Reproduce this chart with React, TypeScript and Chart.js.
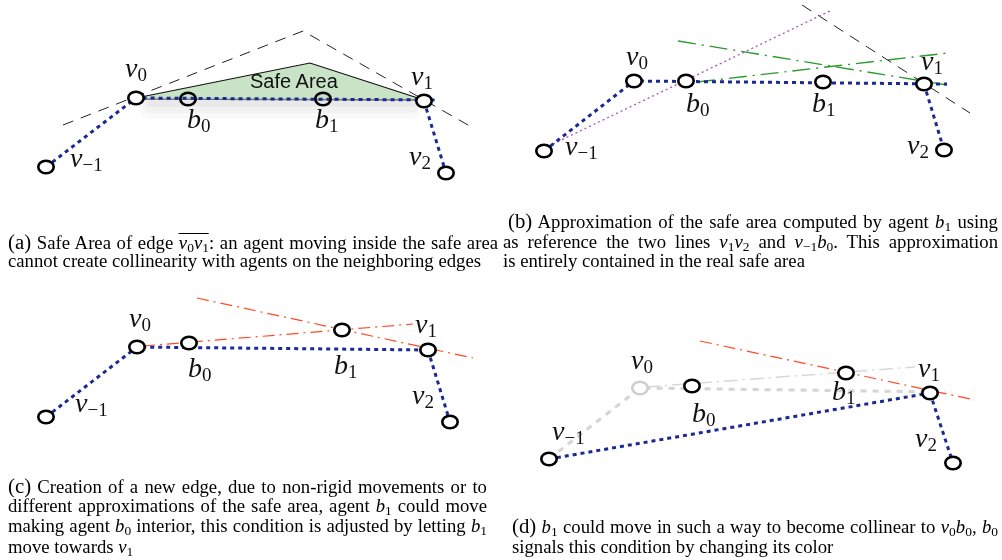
import React, { useEffect, useRef } from 'react';
import { Chart, registerables } from 'chart.js';

Chart.register(...registerables);

const W = 1002;
const H = 560;

// ---------- data: node / agent positions per panel (figure coordinates) ----------
// panel (a)
const nodesA = [{ x: 46, y: 167 }, { x: 136, y: 98 }, { x: 424, y: 101 }, { x: 446, y: 173 }];
const agentsA = [{ x: 188, y: 99 }, { x: 323, y: 99 }];
const blueA1 = [{ x: 46, y: 167 }, { x: 136, y: 98 }, { x: 438, y: 100 }];
const blueA2 = [{ x: 424, y: 101 }, { x: 446, y: 173 }];
const safeArea = [{ x: 136, y: 98 }, { x: 310, y: 63 }, { x: 424, y: 100 }];
const safeBase = [{ x: 136, y: 99 }, { x: 424, y: 100 }];
const shadowA1 = [{ x: 150, y: 103 }, { x: 412, y: 103 }];
const shadowA2 = [{ x: 150, y: 106 }, { x: 412, y: 106 }];
const shadowA3 = [{ x: 150, y: 108 }, { x: 412, y: 108 }];
const dashedA = [{ x: 63, y: 125 }, { x: 303, y: 31 }, { x: 475, y: 129 }];

// panel (b)
const nodesB = [{ x: 544, y: 151 }, { x: 634, y: 81 }, { x: 924, y: 84 }, { x: 944, y: 150 }];
const agentsB = [{ x: 686, y: 81 }, { x: 823, y: 82 }];
const blueB1 = [{ x: 544, y: 151 }, { x: 634, y: 81 }, { x: 947, y: 84 }];
const blueB2 = [{ x: 924, y: 84 }, { x: 944, y: 150 }];
const magentaB = [{ x: 553, y: 144 }, { x: 832, y: 10 }];
const dashedB = [{ x: 802, y: 5 }, { x: 970, y: 113 }];
const greenB1 = [{ x: 678, y: 41 }, { x: 947, y: 85 }];
const greenB2 = [{ x: 697, y: 82 }, { x: 948, y: 53 }];

// panel (c)
const nodesC = [{ x: 46, y: 417 }, { x: 137, y: 347 }, { x: 428, y: 350 }, { x: 450, y: 422 }];
const agentsC = [{ x: 189, y: 343 }, { x: 342, y: 330 }];
const blueC1 = [{ x: 46, y: 417 }, { x: 137, y: 347 }, { x: 428, y: 350 }];
const blueC2 = [{ x: 428, y: 350 }, { x: 450, y: 422 }];
const redC1 = [{ x: 197, y: 298 }, { x: 473, y: 358 }];
const redC2 = [{ x: 143, y: 346 }, { x: 413, y: 324 }];

// panel (d)
const nodesD = [{ x: 549, y: 459 }, { x: 930, y: 393 }, { x: 953, y: 463 }];
const grayNodeD = [{ x: 640, y: 388 }];
const agentsD = [{ x: 692, y: 386 }, { x: 846, y: 373 }];
const grayDashD = [{ x: 549, y: 459 }, { x: 640, y: 388 }, { x: 945, y: 392 }];
const grayDashDotD = [{ x: 646, y: 387 }, { x: 915, y: 367 }];
const blueD1 = [{ x: 549, y: 459 }, { x: 930, y: 393 }];
const blueD2 = [{ x: 930, y: 393 }, { x: 953, y: 463 }];
const redD = [{ x: 700, y: 341 }, { x: 975, y: 400 }];

// ---------- styles ----------
const BLUE = '#1a2a92';

function ellipseStyle(stroke: string, fill: string | null) {
  const c = document.createElement('canvas');
  c.width = 24;
  c.height = 20;
  const ctx = c.getContext('2d')!;
  ctx.beginPath();
  ctx.ellipse(12, 10, 7.7, 6.3, 0, 0, Math.PI * 2);
  if (fill) {
    ctx.fillStyle = fill;
    ctx.fill();
  }
  ctx.lineWidth = 2.6;
  ctx.strokeStyle = stroke;
  ctx.stroke();
  return c;
}

function lineDs(data: any[], color: string, width: number, dash: number[], order = 5, extra: any = {}) {
  return {
    type: 'line',
    data,
    borderColor: color,
    borderWidth: width,
    borderDash: dash,
    pointRadius: 0,
    showLine: true,
    tension: 0,
    fill: false,
    order,
    ...extra,
  };
}

function pointsDs(data: any[], style: any) {
  return {
    type: 'scatter',
    data,
    pointStyle: style,
    pointRadius: 8,
    showLine: false,
    order: 0,
  };
}

function FigureChart() {
  const ref = useRef<HTMLCanvasElement | null>(null);
  useEffect(() => {
    if (!ref.current) return;
    const black = ellipseStyle('#000', '#fff');
    const blackHollow = ellipseStyle('#000', null);
    const gray = ellipseStyle('#cfcfcf', '#fff');
    const BLUEDOT = [4, 4];
    const chart = new Chart(ref.current, {
      type: 'scatter',
      data: {
        datasets: [
          // (a)
          lineDs(shadowA3, 'rgba(0,0,0,0.025)', 22, [], 22, { borderCapStyle: 'round' }),
          lineDs(shadowA2, 'rgba(0,0,0,0.03)', 14, [], 21, { borderCapStyle: 'round' }),
          lineDs(shadowA1, 'rgba(0,0,0,0.04)', 8, [], 20, { borderCapStyle: 'round' }),
          lineDs(safeArea, '#111', 1.2, [], 10, { fill: 'shape', backgroundColor: '#c9e3c6' }),
          lineDs(safeBase, '#777', 1.5, [], 9),
          lineDs(dashedA, '#222', 1, [11, 8], 8),
          lineDs(blueA1, BLUE, 3, BLUEDOT, 2),
          lineDs(blueA2, BLUE, 3, BLUEDOT, 2),
          pointsDs(nodesA, black),
          pointsDs(agentsA, blackHollow),
          // (b)
          lineDs(magentaB, '#b24dbd', 1.3, [2, 3], 4),
          lineDs(dashedB, '#222', 1, [11, 8], 4),
          lineDs(greenB1, '#2c9a2c', 1.4, [18, 6, 2, 6], 4),
          lineDs(greenB2, '#2c9a2c', 1.4, [18, 6, 2, 6], 4),
          lineDs(blueB1, BLUE, 3, BLUEDOT, 2),
          lineDs(blueB2, BLUE, 3, BLUEDOT, 2),
          pointsDs(nodesB, black),
          pointsDs(agentsB, black),
          // (c)
          lineDs(redC1, '#ff4a26', 1.2, [12, 5, 2, 5], 4),
          lineDs(redC2, '#ff4a26', 1.2, [12, 5, 2, 5], 4),
          lineDs(blueC1, BLUE, 3, BLUEDOT, 2),
          lineDs(blueC2, BLUE, 3, BLUEDOT, 2),
          pointsDs(nodesC, black),
          pointsDs(agentsC, black),
          // (d)
          lineDs(grayDashD, '#d4d4d4', 3, [6, 6], 6),
          lineDs(grayDashDotD, '#d8d8d8', 1.5, [14, 5, 2, 5], 6),
          lineDs(redD, '#ff4a26', 1.2, [12, 5, 2, 5], 4),
          lineDs(blueD1, BLUE, 3, BLUEDOT, 2),
          lineDs(blueD2, BLUE, 3, BLUEDOT, 2),
          pointsDs(grayNodeD, gray),
          pointsDs(nodesD, black),
          pointsDs(agentsD, black),
        ] as any,
      },
      options: {
        animation: false,
        responsive: false,
        maintainAspectRatio: false,
        devicePixelRatio: 1,
        events: [],
        layout: { padding: 0, autoPadding: false },
        plugins: { legend: { display: false }, tooltip: { enabled: false } },
        scales: {
          x: { type: 'linear', min: 0, max: W, display: false, offset: false },
          y: { type: 'linear', min: 0, max: H, reverse: true, display: false, offset: false },
        },
      } as any,
    });
    return () => chart.destroy();
  }, []);
  return <canvas ref={ref} width={W} height={H} style={{ position: 'absolute', left: 0, top: 0 }} />;
}

// ---------- labels ----------
const LF = 28;
function Lab({ x, y, v, s, sub }: { x: number; y: number; v: string; s: string; sub?: number }) {
  return (
    <div
      style={{
        position: 'absolute',
        left: x,
        top: y - 25.5,
        fontFamily: '"Liberation Serif", serif',
        fontSize: LF,
        lineHeight: '32px',
        whiteSpace: 'nowrap',
        color: '#111',
      }}
    >
      <i>{v}</i>
      <span style={{ fontSize: 19, position: 'relative', top: sub ?? 4 }}>{s}</span>
    </div>
  );
}

const CF = 18;
const SC = 1.04;
function Sub({ children }: { children: React.ReactNode }) {
  return <span style={{ fontSize: '0.72em', position: 'relative', top: '0.25em', lineHeight: 0 }}>{children}</span>;
}
function MV({ v, s }: { v: string; s: string }) {
  return (
    <>
      <i>{v}</i>
      <Sub>{s}</Sub>
    </>
  );
}
function Cap({ x, y, w, j, children }: { x: number; y: number; w?: number; j?: boolean; children: React.ReactNode }) {
  return (
    <div
      style={{
        position: 'absolute',
        left: x,
        top: y - 16.1,
        width: w ? w / SC : 600,
        transform: `scaleX(${SC})`,
        transformOrigin: '0 0',
        fontFamily: '"Liberation Serif", serif',
        fontSize: CF,
        lineHeight: '20px',
        textAlign: j ? 'justify' : 'left',
        textAlignLast: j ? 'justify' : 'left',
        color: '#000',
      }}
    >
      {children}
    </div>
  );
}
const Tag = ({ t }: { t: string }) => <span style={{ fontSize: 20 }}>{t}</span>;

export default function App() {
  return (
    <div style={{ position: 'absolute', left: 0, top: 0, width: W, height: H, background: '#fff', overflow: 'hidden' }}>
      <FigureChart />
      {/* panel (a) */}
      <div
        style={{
          position: 'absolute',
          left: 250,
          top: 88 - 18.5,
          fontFamily: '"Liberation Sans", Arial, sans-serif',
          fontSize: 20,
          lineHeight: '23px',
          color: '#111',
          whiteSpace: 'nowrap',
        }}
      >
        Safe Area
      </div>
      <Lab x={125} y={77} v="v" s="0" />
      <Lab x={187} y={128} v="b" s="0" />
      <Lab x={315} y={128} v="b" s="1" />
      <Lab x={411} y={85} v="v" s="1" />
      <Lab x={70} y={167} v="v" s="−1" />
      <Lab x={409} y={165} v="v" s="2" />
      {/* panel (b) */}
      <Lab x={626} y={65} v="v" s="0" />
      <Lab x={686} y={112} v="b" s="0" />
      <Lab x={812} y={112} v="b" s="1" />
      <Lab x={921} y={70} v="v" s="1" />
      <Lab x={565} y={155} v="v" s="−1" />
      <Lab x={907} y={154} v="v" s="2" />
      {/* panel (c) */}
      <Lab x={129} y={327} v="v" s="0" />
      <Lab x={188} y={377} v="b" s="0" />
      <Lab x={334} y={374} v="b" s="1" />
      <Lab x={415} y={333} v="v" s="1" />
      <Lab x={75} y={412} v="v" s="−1" />
      <Lab x={412} y={404} v="v" s="2" />
      {/* panel (d) */}
      <Lab x={631} y={369} v="v" s="0" />
      <Lab x={692} y={422} v="b" s="0" />
      <Lab x={832} y={400} v="b" s="1" />
      <Lab x={918} y={377} v="v" s="1" />
      <Lab x={552} y={440} v="v" s="−1" />
      <Lab x={915} y={447} v="v" s="2" />

      {/* captions */}
      <Cap x={8} y={248} w={490} j>
        <Tag t="(a)" /> Safe Area of edge{' '}
        <span style={{ borderTop: '1px solid #000', display: 'inline-block', lineHeight: '16px', paddingTop: 1 }}>
          <MV v="v" s="0" />
          <MV v="v" s="1" />
        </span>
        : an agent moving inside the safe area
      </Cap>
      <Cap x={8} y={267}>cannot create collinearity with agents on the neighboring edges</Cap>

      <Cap x={508} y={227} w={490} j>
        <Tag t="(b)" /> Approximation of the safe area computed by agent <MV v="b" s="1" /> using
      </Cap>
      <Cap x={503} y={248} w={495} j>
        as reference the two lines <MV v="v" s="1" />
        <MV v="v" s="2" /> and <MV v="v" s="−1" />
        <MV v="b" s="0" />. This approximation
      </Cap>
      <Cap x={503} y={267}>is entirely contained in the real safe area</Cap>

      <Cap x={8} y={492} w={479} j>
        <Tag t="(c)" /> Creation of a new edge, due to non-rigid movements or to
      </Cap>
      <Cap x={8} y={512} w={479} j>
        different approximations of the safe area, agent <MV v="b" s="1" /> could move
      </Cap>
      <Cap x={8} y={532} w={479} j>
        making agent <MV v="b" s="0" /> interior, this condition is adjusted by letting <MV v="b" s="1" />
      </Cap>
      <Cap x={8} y={553}>
        move towards <MV v="v" s="1" />
      </Cap>

      <Cap x={512} y={532} w={486} j>
        <Tag t="(d)" /> <MV v="b" s="1" /> could move in such a way to become collinear to <MV v="v" s="0" />
        <MV v="b" s="0" />, <MV v="b" s="0" />
      </Cap>
      <Cap x={512} y={553}>signals this condition by changing its color</Cap>
    </div>
  );
}
